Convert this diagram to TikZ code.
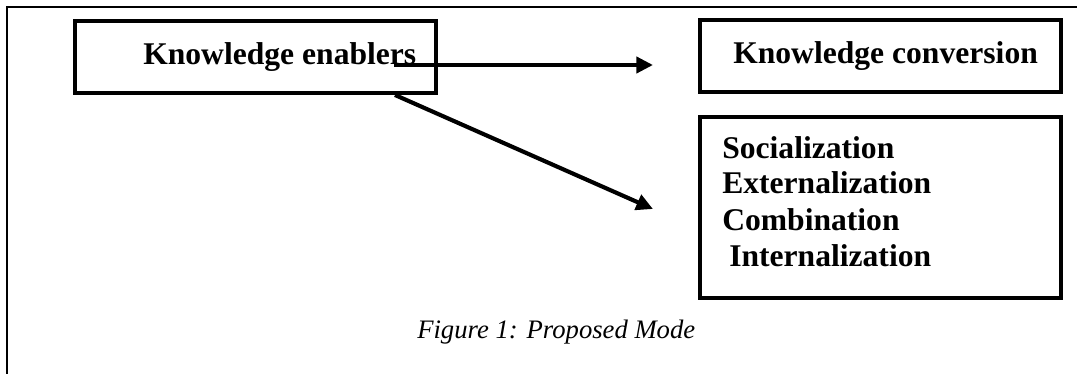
\documentclass[tikz,border=0pt]{standalone}
\usepackage{fontspec}
\setmainfont{Liberation Serif}
\usetikzlibrary{arrows.meta}
\tikzset{
  boxnode/.style={draw, line width=2.7pt, inner sep=0pt, outer sep=0pt, minimum width=270.75pt},
  boldtxt/.style={font=\fontsize{23.7}{27}\selectfont\bfseries, inner sep=0pt, anchor=base west},
  captxt/.style={font=\fontsize{20}{24}\selectfont\itshape, inner sep=0pt, anchor=base west},
  conn/.style={line width=3.1pt, -{Triangle[length=12.5pt, width=12pt]}},
  frameline/.style={line width=1.9pt}
}
\begin{document}
\begin{tikzpicture}[x=0.75pt, y=-0.75pt]
\useasboundingbox (0,0) rectangle (1077,374);
% outer frame (top and left only)
\coordinate (fBL) at (7,374);
\coordinate (fTL) at (7,7);
\coordinate (fTR) at (1077,7);
\draw[frameline] (fBL) -- (fTL) -- (fTR);
% boxes
\node[boxnode, minimum height=54pt] (enab) at (255.5,57) {};
\node[boxnode, minimum height=54pt] (conv) at (880.5,56) {};
\node[boxnode, minimum height=135.75pt] (modes) at (880.5,207.5) {};
% texts
\node[boldtxt] (enabT) at (143,64.5) {Knowledge enablers};
\node[boldtxt] (convT) at (733,63.5) {Knowledge conversion};
\node[boldtxt] (soc) at (722,158) {Socialization};
\node[boldtxt] (ext) at (722,194) {Externalization};
\node[boldtxt] (comb) at (722,230) {Combination};
\node[boldtxt] (intl) at (729,266) {Internalization};
\node[captxt] (cap) at (417,338) {Figure 1: Proposed Mode};
% connectors
\coordinate (a1s) at (394,65);
\coordinate (a1e) at (653,65);
\coordinate (a2s) at (395,95);
\coordinate (a2e) at (653,209);
\draw[conn] (a1s) -- (a1e);
\draw[conn] (a2s) -- (a2e);
\end{tikzpicture}
\end{document}
